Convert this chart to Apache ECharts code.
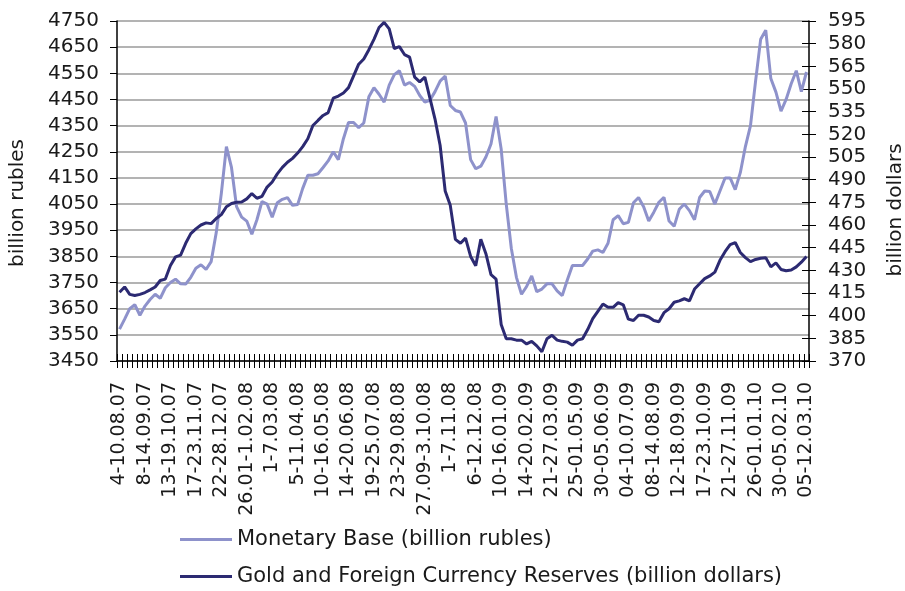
<!DOCTYPE html>
<html>
<head>
<meta charset="utf-8">
<script src="https://cdn.jsdelivr.net/npm/echarts@6/dist/echarts.min.js"></script>
<style>
html,body{margin:0;padding:0;background:#fff;}
#chart{width:905px;height:591px;}
</style>
</head>
<body>
<div id="chart"></div>
<script>
var weeks = [
"4-10.08.07","11-17.08.07","18-24.08.07","25-31.08.07","1-7.09.07",
"8-14.09.07","15-21.09.07","22-28.09.07","29.09-5.10.07","6-12.10.07",
"13-19.10.07","20-26.10.07","27.10-2.11.07","3-9.11.07","10-16.11.07",
"17-23.11.07","24-30.11.07","1-7.12.07","8-14.12.07","15-21.12.07",
"22-28.12.07","29.12-4.01.08","5-11.01.08","12-18.01.08","19-25.01.08",
"26.01-1.02.08","2-8.02.08","9-15.02.08","16-22.02.08","23-29.02.08",
"1-7.03.08","8-14.03.08","15-21.03.08","22-28.03.08","29.03-4.04.08",
"5-11.04.08","12-18.04.08","19-25.04.08","26.04-2.05.08","3-9.05.08",
"10-16.05.08","17-23.05.08","24-30.05.08","31.05-6.06.08","7-13.06.08",
"14-20.06.08","21-27.06.08","28.06-4.07.08","5-11.07.08","12-18.07.08",
"19-25.07.08","26.07-1.08.08","2-8.08.08","9-15.08.08","16-22.08.08",
"23-29.08.08","30.08-5.09.08","6-12.09.08","13-19.09.08","20-26.09.08",
"27.09-3.10.08","4-10.10.08","11-17.10.08","18-24.10.08","25-31.10.08",
"1-7.11.08","8-14.11.08","15-21.11.08","22-28.11.08","29.11-5.12.08",
"6-12.12.08","13-19.12.08","20-26.12.08","27.12-2.01.09","3-9.01.09",
"10-16.01.09","17-23.01.09","24-30.01.09","31.01-6.02.09","7-13.02.09",
"14-20.02.09","21-27.02.09","28.02-6.03.09","7-13.03.09","14-20.03.09",
"21-27.03.09","28-03.04.09","04-10.04.09","11-17.04.09","18-24.04.09",
"25-01.05.09","02-08.05.09","09-15.05.09","16-22.05.09","23-29.05.09",
"30-05.06.09","06-12.06.09","13-19.06.09","20-26.06.09","27-03.07.09",
"04-10.07.09","11-17.07.09","18-24.07.09","25-31.07.09","01-07.08.09",
"08-14.08.09","15-21.08.09","22-28.08.09","29-04.09.09","05-11.09.09",
"12-18.09.09","19-25.09.09","26-02.10.09","03-09.10.09","10-16.10.09",
"17-23.10.09","24-30.10.09","31-06.11.09","07-13.11.09","14-20.11.09",
"21-27.11.09","28-04.12.09","05-11.12.09","12-18.12.09","19-25.12.09",
"26-01.01.10","02-08.01.10","09-15.01.10","16-22.01.10","23-29.01.10",
"30-05.02.10","06-12.02.10","13-19.02.10","20-26.02.10","27-05.03.10",
"05-12.03.10"
];

var monetaryBase = [
3572,3610,3650,3665,3625,3660,3685,3705,3690,3730,
3750,3763,3745,3744,3770,3805,3818,3800,3830,3940,
4090,4270,4190,4040,4000,3985,3935,3990,4060,4050,
4000,4055,4068,4075,4045,4048,4110,4160,4160,4166,
4190,4215,4250,4220,4300,4362,4362,4342,4360,4460,
4495,4470,4440,4505,4545,4560,4505,4515,4500,4465,
4440,4447,4480,4520,4540,4427,4408,4402,4360,4220,
4185,4195,4230,4280,4385,4261,4050,3880,3770,3705,
3735,3775,3715,3725,3745,3745,3718,3700,3760,3815,
3815,3815,3840,3870,3875,3865,3900,3990,4006,3975,
3980,4055,4075,4040,3985,4019,4057,4076,3985,3965,
4030,4050,4025,3990,4075,4100,4098,4050,4100,4150,
4150,4105,4170,4270,4350,4520,4680,4715,4530,4478,
4405,4450,4510,4560,4480,4555
];

var reserves = [
415.5,419.0,414.1,413.3,414.1,415.3,417.1,419.0,423.3,424.2,
433.2,438.9,440.1,447.9,454.3,457.4,460.0,461.4,460.9,464.3,
466.9,472.1,474.2,475.1,475.2,477.3,480.8,477.7,479.0,485.1,
488.5,493.8,498.1,501.5,504.1,507.6,511.9,517.1,525.8,529.2,
532.5,534.4,543.9,545.3,547.4,550.9,558.7,566.4,569.9,576.0,
582.9,590.7,594.1,589.8,576.8,578.0,572.8,571.1,557.8,554.7,
557.8,543.9,530.1,512.8,482.5,473.0,450.5,447.9,451.3,439.2,
433.0,450.5,441.0,427.1,424.2,394.2,384.7,384.7,383.8,383.8,
381.3,383.0,380.0,376.1,384.7,387.0,383.8,383.0,382.5,380.4,
383.8,384.7,390.8,398.0,402.9,407.7,405.5,405.5,408.6,407.2,
397.7,396.8,400.3,400.3,399.1,396.8,396.0,402.0,404.6,408.9,
409.8,411.2,409.8,417.6,421.1,424.5,426.3,428.8,436.6,442.3,
447.0,448.4,441.8,438.4,435.8,437.2,438.0,438.4,432.3,434.9,
430.6,429.7,430.2,432.3,435.4,439.2
];

var leftAxisName = "billion rubles";
var rightAxisName = "billion dollars";
var seriesNames = ["Monetary Base (billion rubles)", "Gold and Foreign Currency Reserves (billion dollars)"];

var FONT = "DejaVu Sans";
var chart = echarts.init(document.getElementById('chart'), null, {renderer: 'canvas'});

function plain(v) { return String(v); }

var legendBase = {
  orient: 'vertical',
  left: 180,
  itemWidth: 52,
  itemHeight: 3,
  icon: 'rect',
  padding: 0,
  textStyle: {fontFamily: FONT, fontSize: 21, color: '#1a1a1a'}
};

var option = {
  animation: false,
  backgroundColor: '#ffffff',
  textStyle: {fontFamily: FONT},
  grid: {left: 117, right: 96, top: 21, bottom: 230, containLabel: false},
  legend: [
    Object.assign({}, legendBase, {top: 529, data: [seriesNames[0]]}),
    Object.assign({}, legendBase, {top: 566, data: [seriesNames[1]]})
  ],
  xAxis: [{
    type: 'category',
    data: weeks,
    position: 'bottom',
    axisLine: {show: true, onZero: false, lineStyle: {color: '#000', width: 1.5}},
    axisTick: {show: true, interval: 0, inside: false, length: 7, lineStyle: {color: '#000', width: 1}},
    axisLabel: {interval: 4, rotate: 90, margin: 21, fontFamily: FONT, fontSize: 19, color: '#1a1a1a'},
    splitLine: {show: false}
  }, {
    type: 'category',
    data: weeks,
    position: 'bottom',
    axisLine: {show: false},
    axisTick: {show: true, interval: 0, inside: true, length: 7, lineStyle: {color: '#000', width: 1}},
    axisLabel: {show: false},
    splitLine: {show: false}
  }],
  yAxis: [{
    type: 'value',
    position: 'left',
    min: 3450, max: 4750, interval: 100,
    axisLine: {show: true, lineStyle: {color: '#000', width: 1.5}},
    axisTick: {show: true, length: 7, lineStyle: {color: '#000', width: 1}},
    axisLabel: {margin: 18, fontFamily: FONT, fontSize: 20, color: '#1a1a1a', formatter: plain},
    splitLine: {show: true, lineStyle: {color: '#9a9a9a', width: 1.5}}
  }, {
    type: 'value',
    position: 'right',
    min: 370, max: 595, interval: 15,
    axisLine: {show: true, lineStyle: {color: '#000', width: 1.5}},
    axisTick: {show: true, length: 7, lineStyle: {color: '#000', width: 1}},
    axisLabel: {margin: 19, fontFamily: FONT, fontSize: 20, color: '#1a1a1a', formatter: plain},
    splitLine: {show: false}
  }, {
    type: 'value',
    position: 'right',
    min: 370, max: 595, interval: 15,
    axisLine: {show: false},
    axisTick: {show: true, inside: true, length: 7, lineStyle: {color: '#000', width: 1}},
    axisLabel: {show: false},
    splitLine: {show: false}
  }],
  graphic: [{
    type: 'text', x: 18, y: 203, rotation: Math.PI / 2,
    style: {text: leftAxisName, font: '20px "DejaVu Sans"', fill: '#1a1a1a', align: 'center', verticalAlign: 'middle'}
  }, {
    type: 'text', x: 896, y: 210, rotation: Math.PI / 2,
    style: {text: rightAxisName, font: '20px "DejaVu Sans"', fill: '#1a1a1a', align: 'center', verticalAlign: 'middle'}
  }],
  series: [{
    name: seriesNames[0],
    type: 'line',
    xAxisIndex: 0, yAxisIndex: 0,
    data: monetaryBase,
    symbol: 'none', smooth: false,
    lineStyle: {color: '#8e92cb', width: 3},
    itemStyle: {color: '#8e92cb'}
  }, {
    name: seriesNames[1],
    type: 'line',
    xAxisIndex: 0, yAxisIndex: 1,
    data: reserves,
    symbol: 'none', smooth: false,
    lineStyle: {color: '#2c2a72', width: 3},
    itemStyle: {color: '#2c2a72'}
  }]
};
chart.setOption(option);
</script>
</body>
</html>
